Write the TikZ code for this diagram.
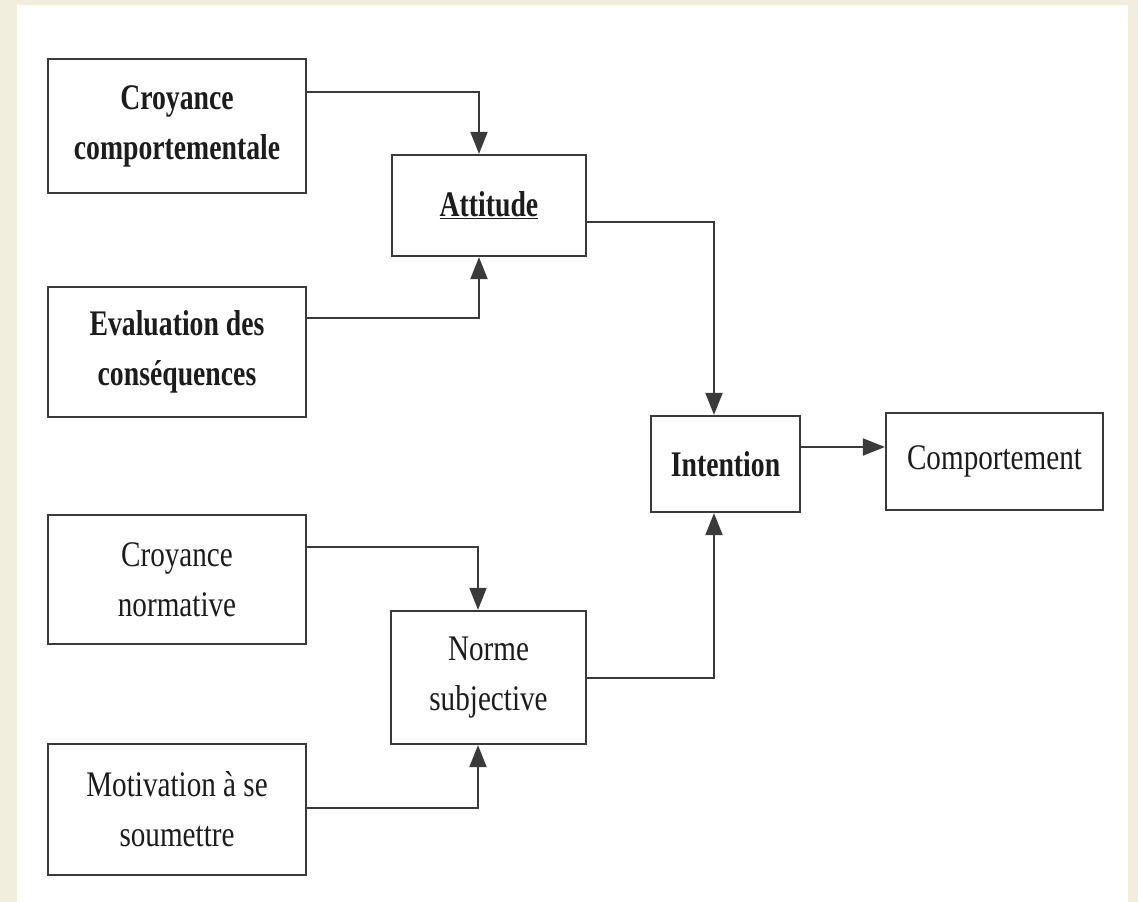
\documentclass[tikz,border=0pt]{standalone}
\usepackage{fontspec}
\setmainfont{Liberation Serif}
\newfontfamily\regnarrow{Liberation Serif}[FakeStretch=0.81]
\newfontfamily\boldnarrow{Liberation Serif}[FakeStretch=0.77]
\usetikzlibrary{arrows.meta}

\definecolor{cream}{RGB}{242,238,222}
\definecolor{linegray}{RGB}{58,58,58}
\definecolor{ink}{RGB}{28,28,28}

\tikzset{
  box/.style={draw=linegray, line width=2.2pt, fill=white, inner sep=0pt,
    align=center, text=ink,
    font=\regnarrow\fontsize{36}{50}\selectfont},
  boldbox/.style={box, font=\boldnarrow\bfseries\fontsize{36}{50}\selectfont},
  link/.style={draw=linegray, line width=2pt,
    -{Triangle[length=22pt,width=17pt]}},
}

\begin{document}
\begin{tikzpicture}[x=1pt, y=-1pt]
  % page and frame
  \fill[cream] (0,0) rectangle (1138,902);
  \fill[white] (17,5) rectangle (1128,902);
  \useasboundingbox (0,0) rectangle (1138,902);

  % beliefs on the left
  \node[boldbox, minimum width=258pt, minimum height=134pt] (cc) at (177,126)
    {Croyance\\comportementale};
  \node[boldbox, minimum width=258pt, minimum height=130pt] (ev) at (177,352)
    {Evaluation des\\conséquences};
  \node[box, minimum width=258pt, minimum height=129pt] (cn) at (177,579.5)
    {Croyance\\normative};
  \node[box, minimum width=258pt, minimum height=131pt] (mo) at (177,809.5)
    {Motivation à se\\soumettre};

  % intermediate constructs
  \node[boldbox, minimum width=194pt, minimum height=101pt] (att) at (489,205.5)
    {\underline{Attitude}};
  \node[box, minimum width=195pt, minimum height=133pt] (ns) at (488.5,677.5)
    {Norme\\subjective};

  % intention and behaviour
  \node[boldbox, minimum width=149pt, minimum height=96pt] (int) at (725.5,464)
    {Intention};
  \node[box, minimum width=217pt, minimum height=97pt] (comp) at (994.5,461.5)
    {Comportement};

  % connectors
  \draw[link] ([yshift=34pt]cc.east) -| ([xshift=-10pt]att.north);
  \draw[link] ([yshift=34pt]ev.east) -| ([xshift=-10pt]att.south);
  \draw[link] ([yshift=32.5pt]cn.east) -| ([xshift=-10.5pt]ns.north);
  \draw[link] ([yshift=1.5pt]mo.east) -| ([xshift=-10.5pt]ns.south);
  \draw[link] ([yshift=-16.5pt]att.east) -| ([xshift=-11.5pt]int.north);
  \draw[link] (ns.east) -| ([xshift=-11.5pt]int.south);
  \draw[link] ([yshift=17pt]int.east) -- ([yshift=17pt]int.east -| comp.west);
\end{tikzpicture}
\end{document}
